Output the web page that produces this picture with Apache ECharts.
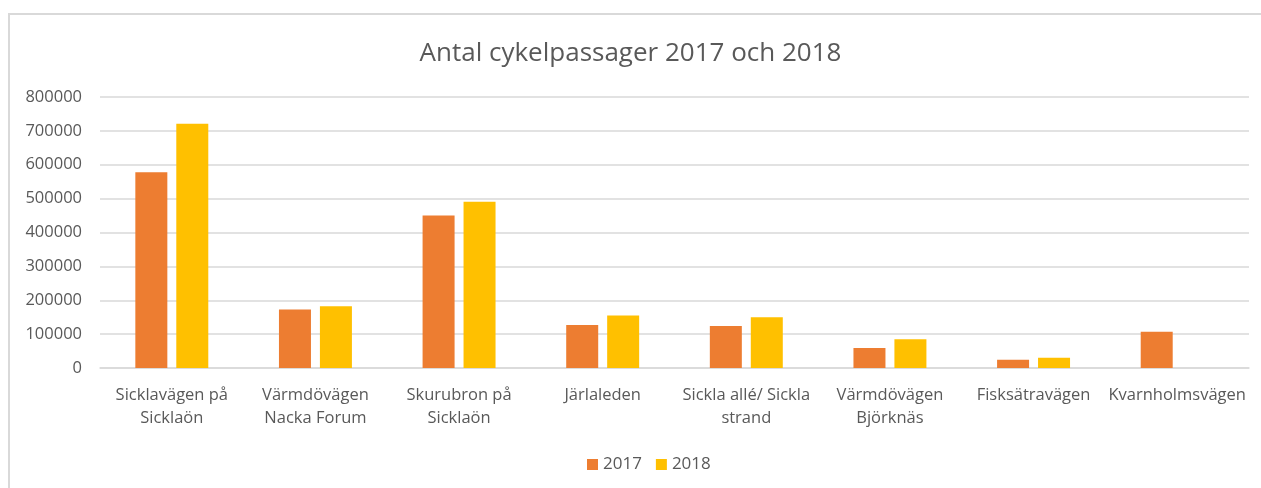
<!DOCTYPE html>
<html>
<head>
<meta charset="utf-8">
<script src="https://cdn.jsdelivr.net/npm/echarts@6/dist/echarts.min.js"></script>
<style>
  html, body { margin: 0; padding: 0; background: #fff; }
  #chart { width: 1261px; height: 488px; }
</style>
</head>
<body>
<div id="chart"></div>
<script>
const categories = [
  'Sicklavägen på\nSicklaön',
  'Värmdövägen\nNacka Forum',
  'Skurubron på\nSicklaön',
  'Järlaleden',
  'Sickla allé/ Sickla\nstrand',
  'Värmdövägen\nBjörknäs',
  'Fisksätravägen',
  'Kvarnholmsvägen',
];
const values2017 = [578000, 173000, 450000, 127000, 124000, 59000, 24000, 107000];
const values2018 = [721000, 182000, 491000, 155000, 150000, 85000, 30000, null];

const textColor = '#595959';
const gridColor = '#d9d9d9';
const font = 'Open Sans';

const chart = echarts.init(document.getElementById('chart'));

chart.setOption({
  animation: false,
  backgroundColor: '#fff',
  textStyle: { fontFamily: font },
  title: {
    text: 'Antal cykelpassager 2017 och 2018',
    left: 'center',
    top: 36,
    textStyle: { color: textColor, fontSize: 26, fontWeight: 'normal', fontFamily: font },
  },
  graphic: [
    {
      type: 'rect',
      shape: { x: 9, y: 14, width: 1260, height: 480 },
      style: { fill: 'none', stroke: gridColor, lineWidth: 2 },
      silent: true,
    },
  ],
  legend: {
    bottom: 10,
    left: 582,
    itemWidth: 11,
    itemHeight: 11,
    itemGap: 14,
    icon: 'rect',
    textStyle: { color: textColor, fontSize: 17, fontFamily: font },
    data: ['2017', '2018'],
  },
  grid: { left: 100, right: 12, top: 97, bottom: 120 },
  xAxis: {
    type: 'category',
    data: categories,
    axisLine: { lineStyle: { color: gridColor, width: 1.5 } },
    axisTick: { show: false },
    axisLabel: {
      color: textColor,
      fontSize: 16.5,
      lineHeight: 23,
      margin: 16,
      interval: 0,
      fontFamily: font,
    },
  },
  yAxis: {
    type: 'value',
    min: 0,
    max: 800000,
    interval: 100000,
    axisLine: { show: false },
    axisTick: { show: false },
    splitLine: { lineStyle: { color: gridColor, width: 1.5 } },
    axisLabel: {
      color: textColor,
      fontSize: 16.5,
      margin: 18,
      fontFamily: font,
      formatter: (v) => String(v),
    },
  },
  series: [
    {
      name: '2017',
      type: 'bar',
      data: values2017,
      barWidth: 32,
      barGap: '28%',
      itemStyle: { color: '#ED7D31' },
    },
    {
      name: '2018',
      type: 'bar',
      data: values2018,
      barWidth: 32,
      itemStyle: { color: '#FFC000' },
    },
  ],
});
</script>
</body>
</html>
